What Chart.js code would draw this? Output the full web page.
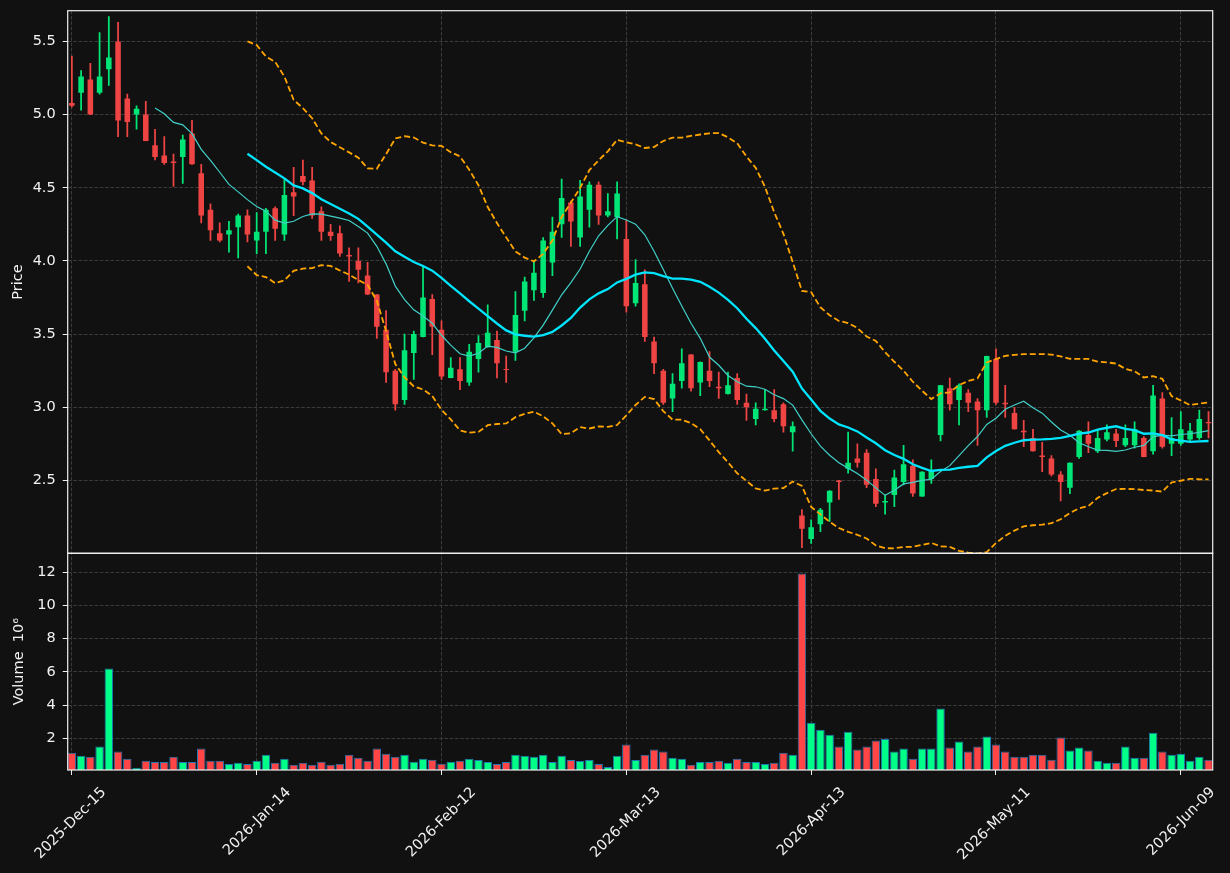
<!DOCTYPE html>
<html lang="en">
<head>
<meta charset="UTF-8">
<title>Price and Volume</title>
<style>
  html, body { margin: 0; padding: 0; background: #111111; }
  #wrap { width: 1230px; height: 873px; }
</style>
</head>
<body>
<div id="wrap"><canvas id="chart" width="1230" height="873"></canvas></div>
<script src="https://cdn.jsdelivr.net/npm/chart.js@4"></script>
<script>
// x tick positions (bar index) and their date labels
const tickIdx = [0, 20, 40, 60, 80, 100, 120];
const tickLabels = ['2025-Dec-15', '2026-Jan-14', '2026-Feb-12', '2026-Mar-13', '2026-Apr-13', '2026-May-11', '2026-Jun-09'];
const priceTicks = [2.5, 3.0, 3.5, 4.0, 4.5, 5.0, 5.5];
const volTicks = [2, 4, 6, 8, 10, 12];

// OHLC
const opens = [
  5.08, 5.15, 5.24, 5.15, 5.31, 5.50, 5.11, 5.00, 5.00, 4.79,
  4.72, 4.68, 4.71, 4.87, 4.60, 4.35, 4.19, 4.18, 4.23, 4.31,
  4.14, 4.20, 4.36, 4.18, 4.47, 4.58, 4.55, 4.34, 4.20, 4.19,
  4.04, 4.00, 3.90, 3.77, 3.53, 3.25, 3.05, 3.37, 3.48, 3.74,
  3.53, 3.20, 3.26, 3.17, 3.33, 3.41, 3.46, 3.262, 3.38, 3.66,
  3.80, 3.78, 3.99, 4.25, 4.40, 4.16, 4.35, 4.52, 4.31, 4.30,
  4.15, 3.71, 3.84, 3.45, 3.25, 3.06, 3.18, 3.36, 3.17, 3.25,
  3.14, 3.09, 3.20, 3.03, 2.92, 2.98, 2.98, 3.02, 2.83, 2.26,
  2.10, 2.20, 2.35, 2.50, 2.58, 2.65, 2.69, 2.51, 2.35, 2.40,
  2.49, 2.60, 2.39, 2.51, 2.81, 3.13, 3.05, 3.10, 3.04, 2.98,
  3.33, 3.03, 2.96, 2.84, 2.79, 2.67, 2.65, 2.54, 2.45, 2.66,
  2.81, 2.70, 2.78, 2.82, 2.74, 2.74, 2.79, 2.70, 3.06, 2.75,
  2.75, 2.78, 2.79, 2.90
];
const highs = [
  5.40, 5.30, 5.35, 5.56, 5.67, 5.63, 5.14, 5.06, 5.09, 4.90,
  4.85, 4.73, 4.86, 4.96, 4.66, 4.39, 4.26, 4.27, 4.32, 4.35,
  4.33, 4.36, 4.37, 4.56, 4.64, 4.69, 4.64, 4.37, 4.25, 4.24,
  4.09, 4.09, 3.99, 3.77, 3.66, 3.26, 3.50, 3.52, 3.96, 3.77,
  3.59, 3.34, 3.34, 3.43, 3.49, 3.70, 3.52, 3.35, 3.79, 3.89,
  4.00, 4.16, 4.30, 4.56, 4.41, 4.55, 4.54, 4.54, 4.46, 4.54,
  4.28, 4.01, 3.94, 3.48, 3.26, 3.23, 3.40, 3.36, 3.31, 3.38,
  3.24, 3.24, 3.23, 3.09, 3.03, 3.12, 3.12, 3.03, 2.90, 2.30,
  2.23, 2.31, 2.43, 2.50, 2.83, 2.75, 2.71, 2.58, 2.40, 2.57,
  2.74, 2.64, 2.56, 2.64, 3.15, 3.20, 3.16, 3.12, 3.06, 3.35,
  3.40, 3.15, 3.00, 2.91, 2.85, 2.76, 2.67, 2.56, 2.62, 2.84,
  2.90, 2.85, 2.88, 2.85, 2.88, 2.90, 2.80, 3.15, 3.10, 2.93,
  2.97, 2.89, 2.98, 2.97
];
const lows = [
  5.05, 5.03, 5.00, 5.14, 5.20, 4.85, 4.85, 4.90, 4.82, 4.69,
  4.66, 4.51, 4.53, 4.66, 4.26, 4.14, 4.13, 4.06, 4.02, 4.13,
  4.05, 4.05, 4.14, 4.14, 4.31, 4.52, 4.29, 4.14, 4.14, 4.03,
  3.86, 3.85, 3.77, 3.47, 3.17, 2.98, 3.02, 3.19, 3.48, 3.36,
  3.19, 3.20, 3.12, 3.15, 3.24, 3.41, 3.20, 3.17, 3.32, 3.59,
  3.73, 3.75, 3.90, 4.16, 4.10, 4.10, 4.23, 4.25, 4.30, 4.15,
  3.65, 3.69, 3.45, 3.23, 3.02, 2.97, 3.13, 3.11, 3.08, 3.14,
  3.06, 3.09, 3.02, 2.91, 2.88, 2.98, 2.90, 2.83, 2.70, 2.04,
  2.07, 2.15, 2.22, 2.37, 2.55, 2.59, 2.45, 2.32, 2.27, 2.32,
  2.47, 2.39, 2.39, 2.48, 2.77, 2.98, 2.88, 2.97, 2.74, 2.93,
  3.02, 2.93, 2.85, 2.73, 2.70, 2.56, 2.53, 2.36, 2.41, 2.65,
  2.69, 2.69, 2.77, 2.73, 2.73, 2.72, 2.66, 2.68, 2.72, 2.67,
  2.74, 2.77, 2.78, 2.79
];
const closes = [
  5.06, 5.26, 5.00, 5.26, 5.39, 4.96, 4.95, 5.04, 4.82, 4.71,
  4.67, 4.67, 4.83, 4.66, 4.31, 4.21, 4.14, 4.21, 4.31, 4.18,
  4.20, 4.35, 4.22, 4.45, 4.44, 4.54, 4.31, 4.20, 4.17, 4.05,
  4.03, 3.94, 3.77, 3.55, 3.24, 3.02, 3.39, 3.50, 3.75, 3.55,
  3.21, 3.27, 3.18, 3.38, 3.44, 3.51, 3.30, 3.255, 3.63, 3.86,
  3.92, 4.14, 4.20, 4.43, 4.27, 4.44, 4.52, 4.31, 4.34, 4.46,
  3.69, 3.85, 3.48, 3.30, 3.03, 3.16, 3.30, 3.13, 3.31, 3.18,
  3.13, 3.15, 3.05, 3.00, 2.99, 2.99, 2.92, 2.87, 2.87, 2.17,
  2.18, 2.30, 2.43, 2.49, 2.62, 2.62, 2.47, 2.34, 2.36, 2.52,
  2.61, 2.41, 2.56, 2.57, 3.15, 3.02, 3.15, 3.03, 2.98, 3.35,
  3.03, 3.02, 2.85, 2.83, 2.70, 2.66, 2.54, 2.49, 2.62, 2.84,
  2.75, 2.79, 2.83, 2.77, 2.79, 2.85, 2.66, 3.08, 2.73, 2.79,
  2.85, 2.84, 2.92, 2.89
];
// volume in millions
const volumes = [
  1.13, 0.95, 0.89, 1.50, 6.21, 1.20, 0.77, 0.23, 0.65, 0.57,
  0.57, 0.89, 0.57, 0.57, 1.38, 0.65, 0.65, 0.45, 0.53, 0.45,
  0.65, 1.01, 0.53, 0.77, 0.41, 0.53, 0.41, 0.59, 0.41, 0.47,
  1.01, 0.83, 0.65, 1.38, 1.07, 0.89, 1.01, 0.59, 0.77, 0.71,
  0.47, 0.59, 0.65, 0.77, 0.69, 0.57, 0.45, 0.57, 1.01, 0.95,
  0.89, 1.01, 0.57, 0.95, 0.69, 0.63, 0.69, 0.45, 0.27, 0.95,
  1.62, 0.69, 1.01, 1.32, 1.20, 0.83, 0.77, 0.41, 0.57, 0.57,
  0.65, 0.53, 0.77, 0.57, 0.57, 0.45, 0.53, 1.13, 1.01, 11.93,
  2.94, 2.52, 2.22, 1.50, 2.40, 1.32, 1.50, 1.86, 1.96, 1.20,
  1.38, 0.77, 1.38, 1.38, 3.79, 1.44, 1.80, 1.20, 1.50, 2.10,
  1.62, 1.20, 0.89, 0.89, 1.01, 1.01, 0.71, 2.04, 1.26, 1.44,
  1.26, 0.65, 0.53, 0.53, 1.50, 0.83, 0.83, 2.34, 1.20, 1.01,
  1.07, 0.65, 0.89, 0.71
];

const upCandle = '#00e676', downCandle = '#ef4444';
const upVol = '#00ff88', downVol = '#ff4545';
const txt = '#f2f2f2';
const gridCol = '#3a3a3a';

// moving averages and bollinger bands (20, 2) from the closes
const mean = a => a.reduce((s, v) => s + v, 0) / a.length;
const sd = a => { const m = mean(a); return Math.sqrt(mean(a.map(v => (v - m) * (v - m)))); };
const win = (n, fn) => closes.map((c, i) => i < n - 1 ? null : fn(closes.slice(i - n + 1, i + 1)));
const ma10 = win(10, mean);
const ma20 = win(20, mean);
const bbUp = win(20, a => mean(a) + 2 * sd(a));
const bbLo = win(20, a => mean(a) - 2 * sd(a));

const idx = closes.map((c, i) => i);
const up = closes.map((c, i) => c >= opens[i]);
const pts = arr => idx.map(i => ({ x: i, y: arr[i] }));

// keep each dataset inside its own panel
const panelClip = {
  id: 'panelClip',
  beforeDatasetDraw(chart, args) {
    const s = chart.scales[args.meta.yAxisID];
    const a = chart.chartArea;
    chart.ctx.save();
    chart.ctx.beginPath();
    chart.ctx.rect(a.left, s.top, a.right - a.left, s.bottom - s.top);
    chart.ctx.clip();
  },
  afterDatasetDraw(chart) { chart.ctx.restore(); }
};
const panelFrame = {
  id: 'panelFrame',
  afterDatasetsDraw(chart) {
    const { ctx, chartArea: a, scales } = chart;
    ctx.save();
    ctx.strokeStyle = '#f0f0f0';
    ctx.lineWidth = 1.2;
    ['y', 'vol'].forEach(id => {
      const s = scales[id];
      ctx.strokeRect(a.left, s.top, a.right - a.left, s.bottom - s.top);
    });
    ctx.restore();
  }
};

Chart.defaults.font.family = "'DejaVu Sans', sans-serif";
const tickFont = { size: 14.5 };
const gridOpts = { color: gridCol, lineWidth: 1, tickLength: 5, tickColor: '#f0f0f0', tickBorderDash: [], tickWidth: 1 };
const fitY = s => { s.width = 67.7; s.paddingTop = 0; s.paddingBottom = 0; };
const line = (data, color, width, dash) => ({
  type: 'line', data: pts(data), yAxisID: 'y', borderColor: color, borderWidth: width,
  borderDash: dash || [], pointRadius: 0, tension: 0, spanGaps: false, order: 0
});

new Chart(document.getElementById('chart'), {
  type: 'bar',
  data: {
    datasets: [
      line(bbUp, '#ffa500', 1.8, [6, 3]),
      line(bbLo, '#ffa500', 1.8, [6, 3]),
      line(ma20, '#00e5ff', 2.3),
      line(ma10, '#40d0c8', 1.2),
      {
        label: 'body', data: idx.map(i => ({ x: i, y: [opens[i], closes[i]] })), yAxisID: 'y',
        backgroundColor: up.map(u => u ? upCandle : downCandle), borderWidth: 0,
        grouped: false, categoryPercentage: 1, barPercentage: 0.6, order: 1
      },
      {
        label: 'wick', data: idx.map(i => ({ x: i, y: [lows[i], highs[i]] })), yAxisID: 'y',
        backgroundColor: up.map(u => u ? upCandle : downCandle), borderWidth: 0,
        grouped: false, categoryPercentage: 1, barPercentage: 1, maxBarThickness: 1.1, order: 2
      },
      {
        label: 'volume', data: idx.map(i => ({ x: i, y: volumes[i] })), yAxisID: 'vol',
        backgroundColor: up.map(u => u ? upVol : downVol), borderColor: '#1f77b4', borderWidth: 1,
        borderSkipped: false, grouped: false, categoryPercentage: 1, barPercentage: 0.92, order: 3
      }
    ]
  },
  options: {
    responsive: false,
    animation: false,
    devicePixelRatio: 1,
    events: [],
    layout: { padding: { left: 0, top: 10.7, right: 17.3, bottom: 0 } },
    plugins: { legend: { display: false }, tooltip: { enabled: false } },
    scales: {
      x: {
        type: 'linear', min: -0.45, max: 123.45, offset: false,
        afterBuildTicks: s => { s.ticks = tickIdx.map(v => ({ value: v })); },
        afterFit: s => { s.height = 103; s.paddingLeft = 0; s.paddingRight = 0; },
        grid: Object.assign({ offset: false }, gridOpts),
        border: { display: false, dash: [3.7, 1.6] },
        ticks: {
          color: txt, font: tickFont, autoSkip: false, minRotation: 45, maxRotation: 45,
          padding: 9, labelOffset: 32,
          callback: v => tickLabels[tickIdx.indexOf(v)]
        }
      },
      // listed before the price axis so it is stacked below it
      vol: {
        type: 'linear', position: 'left', stack: 'panels', stackWeight: 1,
        min: 0.09, max: 13.14,
        afterBuildTicks: s => { s.ticks = volTicks.map(v => ({ value: v })); },
        afterFit: fitY,
        grid: gridOpts,
        border: { display: false, dash: [3.7, 1.6] },
        ticks: { color: txt, font: tickFont, padding: 7, callback: v => String(v) },
        title: { display: true, text: 'Volume  10\u2076', color: txt, font: tickFont, padding: { top: 11, bottom: 0 } }
      },
      y: {
        type: 'linear', position: 'left', stack: 'panels', stackWeight: 2.504,
        min: 2.002, max: 5.71,
        afterBuildTicks: s => { s.ticks = priceTicks.map(v => ({ value: v })); },
        afterFit: fitY,
        grid: gridOpts,
        border: { display: false, dash: [3.7, 1.6] },
        ticks: { color: txt, font: tickFont, padding: 7, callback: v => v.toFixed(1) },
        title: { display: true, text: 'Price', color: txt, font: tickFont, padding: { top: 10, bottom: 0 } }
      }
    }
  },
  plugins: [panelClip, panelFrame]
});
</script>
</body>
</html>
